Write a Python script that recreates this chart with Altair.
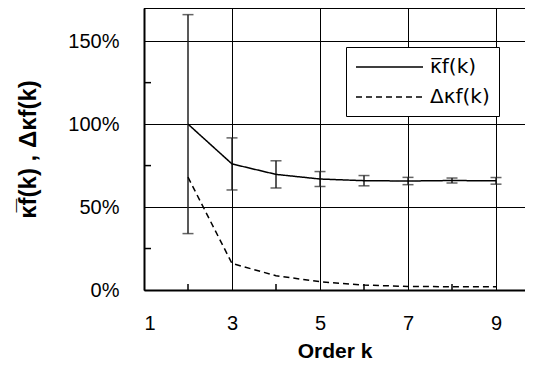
import altair as alt
import pandas as pd

# ---- data ----
orders = [2, 3, 4, 5, 6, 7, 8, 9]
mean_kappa = [1.00, 0.76, 0.697, 0.669, 0.659, 0.657, 0.660, 0.658]
err_half = [0.66, 0.157, 0.082, 0.045, 0.031, 0.022, 0.015, 0.020]
delta_kappa = [0.68, 0.16, 0.086, 0.050, 0.030, 0.021, 0.020, 0.020]
series_names = ["κ̅f(k)", "Δκf(k)"]
x_ticks = [1, 3, 5, 7, 9]
y_ticks = [0, 0.5, 1.0, 1.5]
x_minor = [2, 4, 6, 8]
y_minor = [0.25, 0.75, 1.25]

W, H = 381, 282

lines_df = pd.DataFrame(
    [{"k": k, "v": v, "s": series_names[0]} for k, v in zip(orders, mean_kappa)]
    + [{"k": k, "v": v, "s": series_names[1]} for k, v in zip(orders, delta_kappa)]
)
err_df = pd.DataFrame({
    "k": orders,
    "lo": [m - e for m, e in zip(mean_kappa, err_half)],
    "hi": [m + e for m, e in zip(mean_kappa, err_half)],
})
xminor_df = pd.DataFrame({"k": x_minor})
yminor_df = pd.DataFrame({"v": y_minor})

xs = alt.Scale(domain=[1, 1 + W / 44.0], nice=False, zero=False)
ys = alt.Scale(domain=[0, 1.7], nice=False, zero=True)

x_axis = alt.Axis(values=x_ticks, title="Order k", grid=True, tickSize=0,
                  labelPadding=23, labelFontSize=20, titleFontSize=21,
                  titleFontWeight="bold", titlePadding=7, format="d")
y_axis = alt.Axis(values=y_ticks, format=".0%", title="κ̅f(k) , Δκf(k)", grid=True,
                  tickSize=0, labelPadding=25, labelFontSize=20, titleFontSize=24,
                  titleFontWeight="bold", titlePadding=27)

lines = alt.Chart(lines_df).mark_line(color="black", strokeWidth=1.5).encode(
    x=alt.X("k:Q", scale=xs, axis=x_axis),
    y=alt.Y("v:Q", scale=ys, axis=y_axis),
    strokeDash=alt.StrokeDash(
        "s:N",
        scale=alt.Scale(domain=series_names, range=[[1, 0], [6, 4]]),
        legend=alt.Legend(title=None, orient="none", legendX=202, legendY=39,
                          symbolType="M-1,0H5.7", symbolSize=400,
                          symbolStrokeColor="black", symbolFillColor="transparent",
                          symbolStrokeWidth=1.3,
                          labelFontSize=20, labelOffset=53, padding=9,
                          rowPadding=9, fillColor="white", strokeColor="black"),
    ),
    order="k:Q",
)

err_rules = alt.Chart(err_df).mark_rule(color="#222", strokeWidth=1.5).encode(
    x=alt.X("k:Q", scale=xs), y=alt.Y("lo:Q", scale=ys), y2="hi:Q")
cap_lo = alt.Chart(err_df).mark_tick(color="#222", thickness=1.5, size=11,
                                     orient="horizontal").encode(
    x=alt.X("k:Q", scale=xs), y=alt.Y("lo:Q", scale=ys))
cap_hi = alt.Chart(err_df).mark_tick(color="#222", thickness=1.5, size=11,
                                     orient="horizontal").encode(
    x=alt.X("k:Q", scale=xs), y=alt.Y("hi:Q", scale=ys))

xminor = alt.Chart(xminor_df).mark_rule(color="black", strokeWidth=1.5).encode(
    x=alt.X("k:Q", scale=xs), y=alt.value(H), y2=alt.value(H - 6))
yminor = alt.Chart(yminor_df).mark_rule(color="black", strokeWidth=1.5).encode(
    y=alt.Y("v:Q", scale=ys), x=alt.value(0), x2=alt.value(7))
top_border = alt.Chart(xminor_df).mark_rule(color="black", strokeWidth=1).encode(
    x=alt.value(0), x2=alt.value(W), y=alt.value(0.5))

chart = alt.layer(top_border, xminor, yminor, err_rules, cap_lo, cap_hi, lines).properties(
    width=W, height=H,
    autosize=alt.AutoSizeParams(type="none"),
    padding={"left": 136, "top": 0, "right": 0, "bottom": 74},
).configure_view(strokeWidth=0).configure_axis(
    domainColor="black", domainWidth=2, gridColor="black", gridWidth=1,
    gridOpacity=1, labelColor="black", titleColor="black",
    labelFont="Liberation Sans", titleFont="Liberation Sans",
).configure_legend(labelFont="DejaVu Sans", labelColor="black")

chart.save("out.html", embed_options={"renderer": "svg", "actions": False})
